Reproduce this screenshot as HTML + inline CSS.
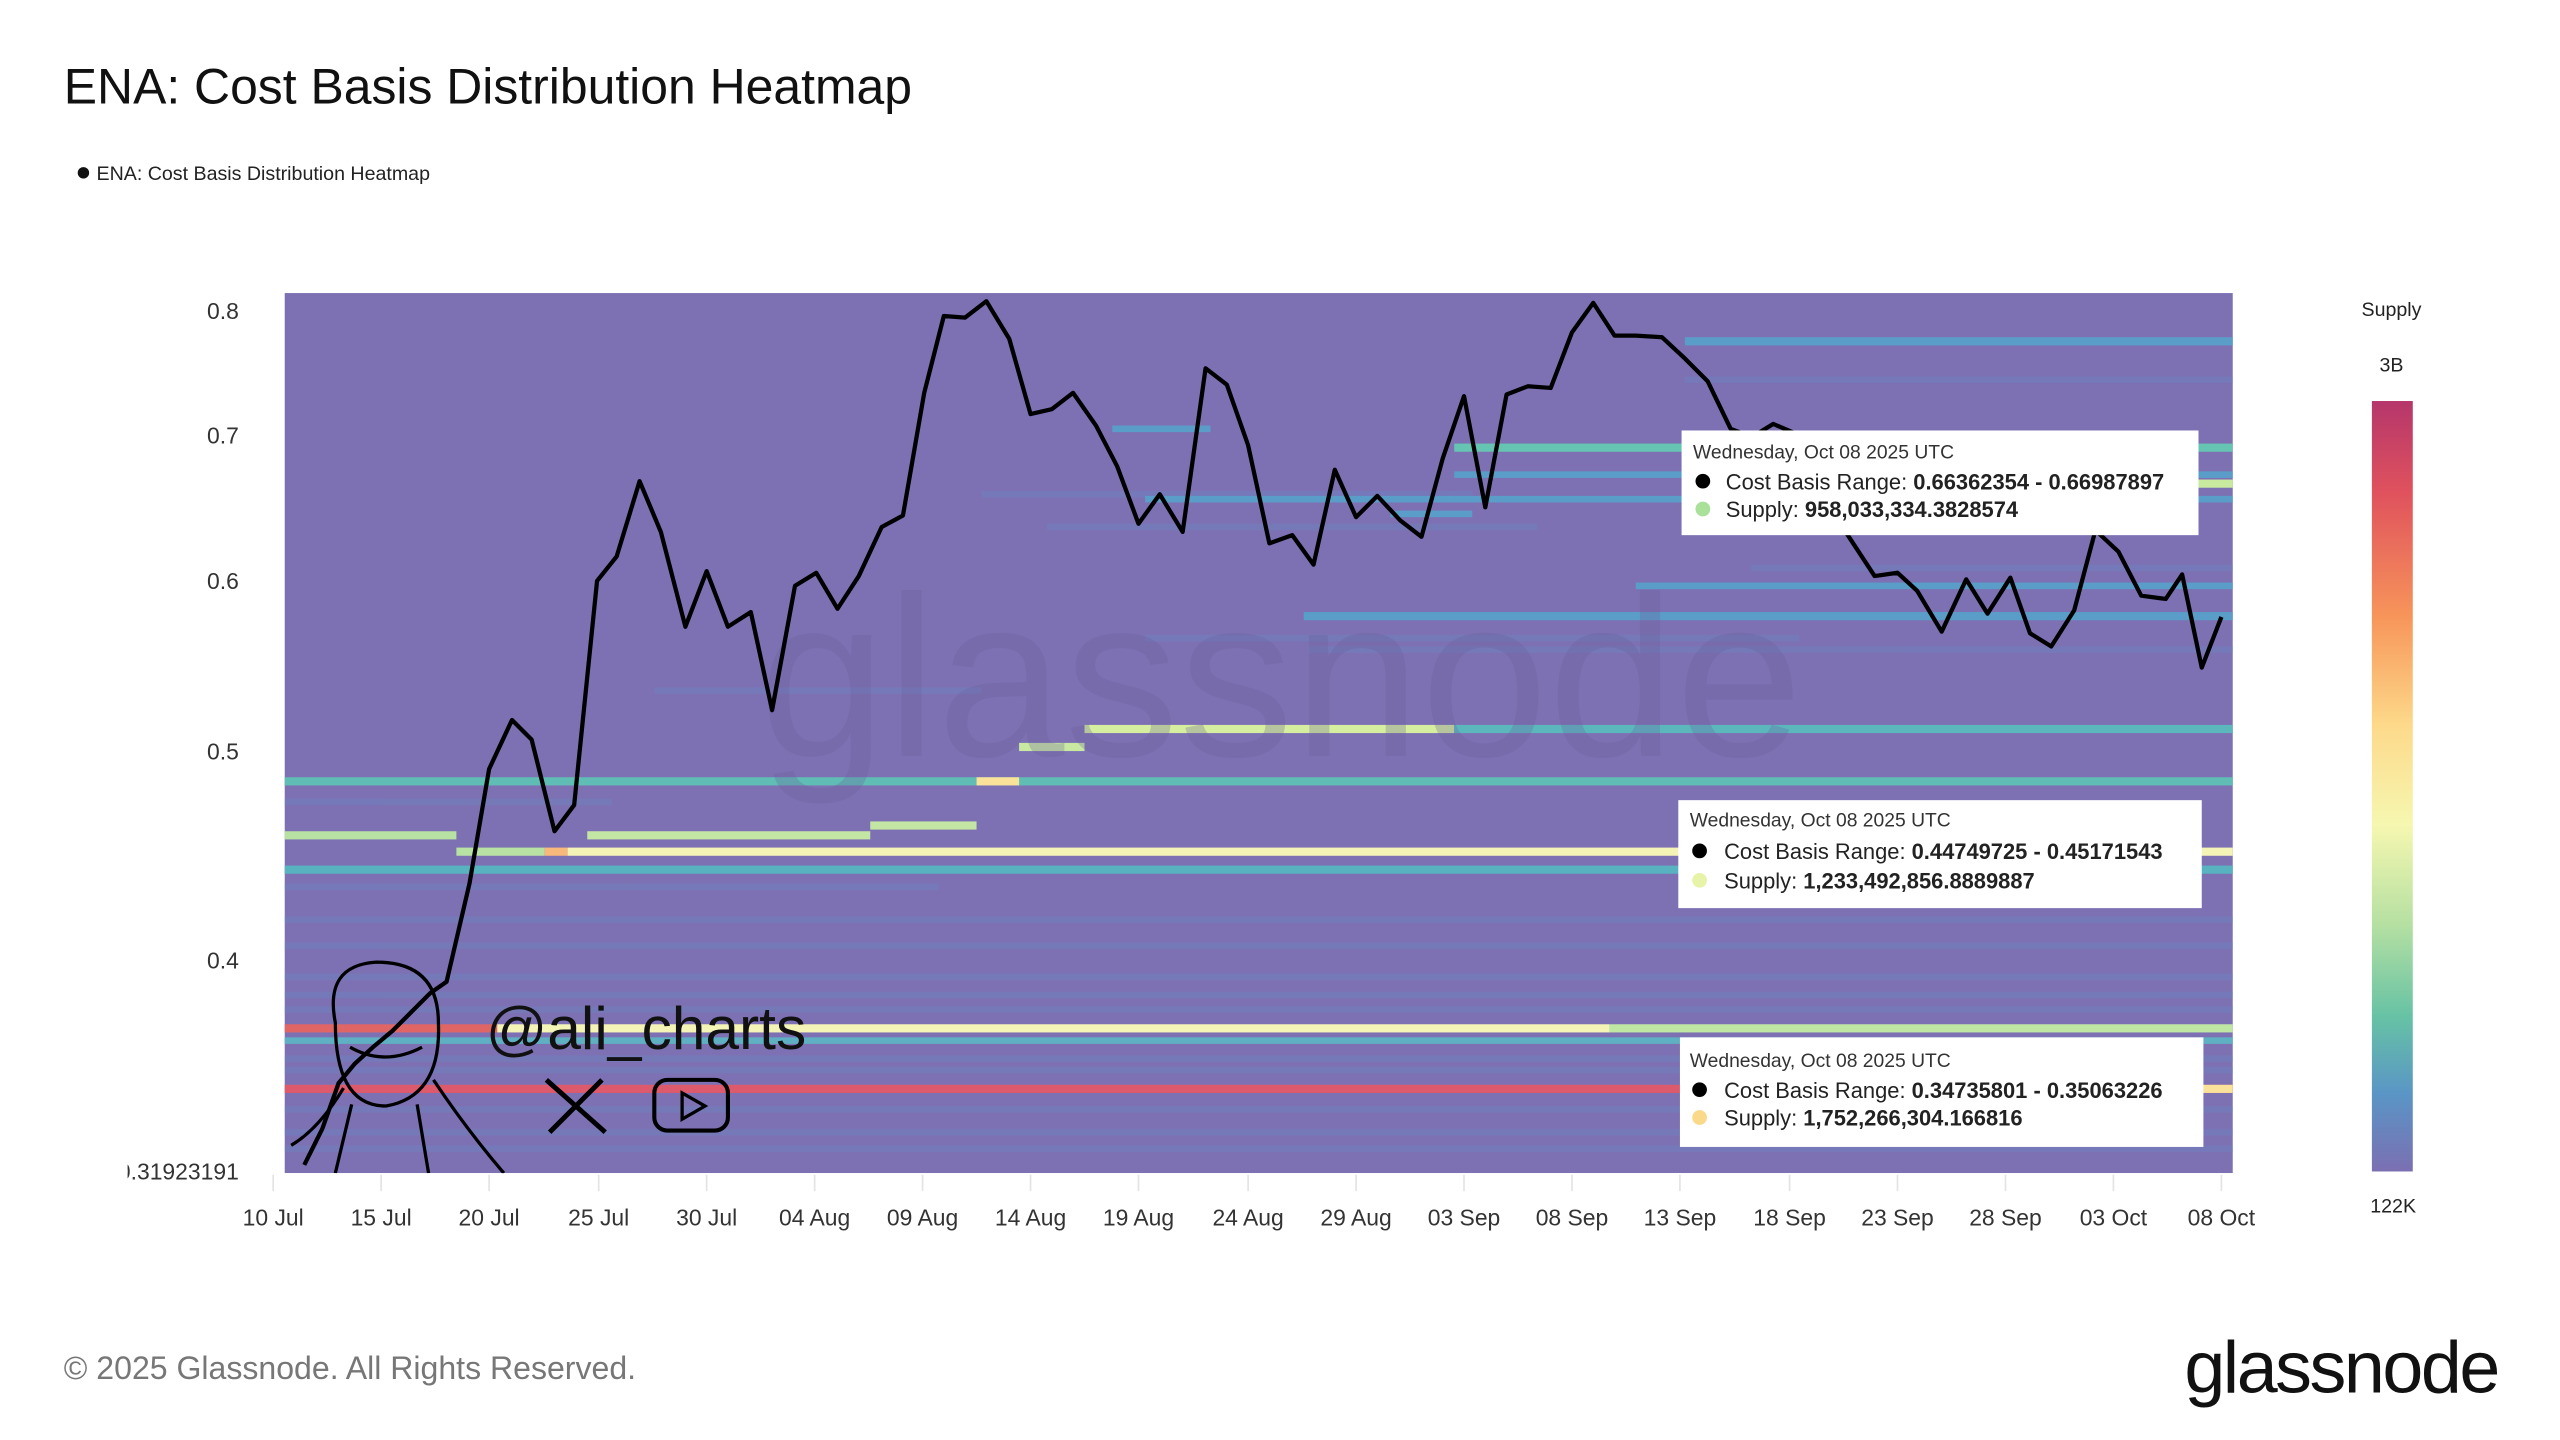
<!DOCTYPE html>
<html><head><meta charset="utf-8"><style>
html,body{margin:0;padding:0;background:#fff;}
svg{display:block}
text{font-family:"Liberation Sans",sans-serif}
</style></head><body>
<svg width="2560" height="1440" viewBox="0 0 1565 880" xmlns="http://www.w3.org/2000/svg">
<defs>
<linearGradient id="cb" x1="0" y1="0" x2="0" y2="1">
<stop offset="0" stop-color="#b5366b"/>
<stop offset="0.12" stop-color="#e0525d"/>
<stop offset="0.28" stop-color="#f7955a"/>
<stop offset="0.42" stop-color="#fdd98a"/>
<stop offset="0.55" stop-color="#f6f7b0"/>
<stop offset="0.68" stop-color="#b5e0a2"/>
<stop offset="0.8" stop-color="#66c2a5"/>
<stop offset="0.9" stop-color="#5a95c6"/>
<stop offset="1" stop-color="#7b6fb2"/>
</linearGradient>
<clipPath id="pc"><rect x="174" y="179" width="1191" height="538"/></clipPath>
</defs>
<rect width="1565" height="880" fill="#fff"/>
<text x="39" y="63" font-size="30.5" fill="#111">ENA: Cost Basis Distribution Heatmap</text>
<circle cx="51" cy="105.5" r="3.5" fill="#111"/>
<text x="59" y="110" font-size="12" fill="#222">ENA: Cost Basis Distribution Heatmap</text>

<g clip-path="url(#pc)">
<rect x="174" y="179" width="1191" height="538" fill="#7d71b3"/>
<g fill="#6f83c0" opacity="0.45">
<rect x="174" y="560" width="1191" height="4"/>
<rect x="174" y="576" width="1191" height="4"/>
<rect x="174" y="595" width="1191" height="4"/>
<rect x="174" y="606" width="1191" height="4"/>
<rect x="174" y="615" width="1191" height="4"/>
<rect x="174" y="645" width="1191" height="4"/>
<rect x="174" y="652" width="1191" height="4"/>
<rect x="174" y="676" width="1191" height="4"/>
<rect x="174" y="690" width="1191" height="4"/>
<rect x="174" y="700" width="1191" height="4"/>
<rect x="1030" y="230" width="335" height="4"/>
<rect x="1070" y="345" width="295" height="4"/>
<rect x="800" y="395" width="565" height="4"/>
<rect x="700" y="388" width="400" height="4"/>
<rect x="640" y="320" width="300" height="4"/>
<rect x="600" y="300" width="300" height="4"/>
<rect x="400" y="420" width="200" height="4"/>
<rect x="174" y="488" width="200" height="4"/>
<rect x="174" y="540" width="400" height="4"/>
</g>
<g fill="#5a9dc8">
<rect x="1030" y="206" width="335" height="5"/>
<rect x="889" y="288" width="476" height="4"/>
<rect x="889" y="303" width="476" height="4"/>
<rect x="700" y="303" width="190" height="4"/>
<rect x="797" y="374" width="568" height="5"/>
<rect x="1000" y="356" width="365" height="4"/>
<rect x="680" y="260" width="60" height="4"/>
<rect x="850" y="312" width="50" height="4"/>
</g>
<rect x="889" y="271" width="476" height="5" fill="#66c4b2"/>
<rect x="1280" y="293" width="85" height="5" fill="#c8ea9e"/>
<rect x="663" y="443" width="226" height="5" fill="#d6ee9f"/>
<rect x="889" y="443" width="476" height="5" fill="#5cb7bd"/>
<rect x="623" y="454" width="40" height="5" fill="#c9e8a2"/>
<rect x="174" y="475" width="1191" height="5" fill="#5fbdb5"/>
<rect x="597" y="475" width="26" height="5" fill="#fbe29a"/>
<rect x="532" y="502" width="65" height="5" fill="#c4e6a4"/>
<rect x="174" y="508" width="105" height="5" fill="#b8e2a4"/>
<rect x="359" y="508" width="173" height="5" fill="#c4e6a4"/>
<rect x="279" y="518" width="54" height="5" fill="#b8e2a4"/>
<rect x="333" y="518" width="14" height="5" fill="#f9b97a"/>
<rect x="347" y="518" width="1018" height="5" fill="#f4f4b6"/>
<rect x="174" y="529" width="1191" height="5" fill="#58b2c0"/>
<rect x="174" y="626" width="130" height="5" fill="#e06666"/>
<rect x="304" y="626" width="680" height="5" fill="#f4f4b6"/>
<rect x="984" y="626" width="381" height="5" fill="#c0e6a4"/>
<rect x="174" y="634" width="1191" height="4" fill="#5fb0c2"/>
<rect x="174" y="663" width="1191" height="5" fill="#dc5a6c"/>
<rect x="1345" y="663" width="20" height="5" fill="#fbe29a"/>
<text x="783" y="462" font-size="140" fill="#6a5f9d" opacity="0.28" text-anchor="middle">glassnode</text>
<polyline fill="none" stroke="#000" stroke-width="2.6" stroke-linejoin="round" points="186,712 197,690 207,662 217,650 228,640 240,630 253,617 263,607 273,600 287,540 299,470 313,440 325,452 339,508 351,492 365,355 377,340 391,294 404,325 419,383 432,349 445,383 459,374 472,434 486,358 499,350 512,372 525,352 539,322 552,315 565,240 577,193 590,194 603,184 617,207 630,253 643,250 656,240 670,260 683,285 696,320 709,302 723,325 737,225 750,235 763,272 776,332 790,327 803,345 816,287 829,316 842,303 856,318 869,328 882,280 895,242 908,310 921,241 934,236 948,237 961,203 974,185 987,205 1000,205 1016,206 1030,219 1044,233 1058,262 1071,267 1084,259 1098,265 1111,290 1125,320 1146,352 1160,350 1172,361 1187,386 1202,354 1215,375 1229,353 1241,387 1254,395 1268,373 1281,324 1295,337 1309,364 1324,366 1334,351 1346,408 1358,377"/>
<g fill="none" stroke="#000" stroke-width="2">
<path d="M205 625 Q198 590 230 588 Q268 588 268 625 Q270 670 236 676 Q205 676 205 625 Z"/>
<path d="M210 665 Q195 690 178 700 M265 660 Q285 690 308 717 M215 675 L205 717 M255 675 L262 717"/>
<path d="M214 640 Q235 652 258 640"/>
</g>
<text x="297" y="641" font-size="37" fill="#111">@ali_charts</text>
<path d="M334 660 L370 692 M368 660 L336 692" stroke="#000" stroke-width="3"/>
<rect x="400" y="660" width="45" height="31" rx="8" fill="none" stroke="#000" stroke-width="2.5"/>
<path d="M417 668 L431 676 L417 684 Z" fill="none" stroke="#000" stroke-width="2"/>
</g>

<g font-size="13.4" fill="#222">
<rect x="1028" y="263" width="316" height="64" fill="#fff"/>
<text x="1035" y="280" font-size="11.8" fill="#333">Wednesday, Oct 08 2025 UTC</text>
<circle cx="1041" cy="294" r="4.5" fill="#000"/>
<text x="1055" y="299">Cost Basis Range: <tspan font-weight="bold">0.66362354 - 0.66987897</tspan></text>
<circle cx="1041" cy="311" r="4.5" fill="#a9e09a"/>
<text x="1055" y="316">Supply: <tspan font-weight="bold">958,033,334.3828574</tspan></text>

<rect x="1026" y="489" width="320" height="66" fill="#fff"/>
<text x="1033" y="505" font-size="11.8" fill="#333">Wednesday, Oct 08 2025 UTC</text>
<circle cx="1039" cy="520" r="4.5" fill="#000"/>
<text x="1054" y="525">Cost Basis Range: <tspan font-weight="bold">0.44749725 - 0.45171543</tspan></text>
<circle cx="1039" cy="538" r="4.5" fill="#e6f3a8"/>
<text x="1054" y="543">Supply: <tspan font-weight="bold">1,233,492,856.8889887</tspan></text>

<rect x="1027" y="634" width="320" height="67" fill="#fff"/>
<text x="1033" y="652" font-size="11.8" fill="#333">Wednesday, Oct 08 2025 UTC</text>
<circle cx="1039" cy="666" r="4.5" fill="#000"/>
<text x="1054" y="671">Cost Basis Range: <tspan font-weight="bold">0.34735801 - 0.35063226</tspan></text>
<circle cx="1039" cy="683" r="4.5" fill="#fbd98a"/>
<text x="1054" y="688">Supply: <tspan font-weight="bold">1,752,266,304.166816</tspan></text>
</g>

<g font-size="14" fill="#333" text-anchor="end">
<text x="146" y="195">0.8</text>
<text x="146" y="271">0.7</text>
<text x="146" y="360">0.6</text>
<text x="146" y="464">0.5</text>
<text x="146" y="592">0.4</text>
<text x="146" y="721">0.31923191</text>
</g>
<rect x="60" y="705" width="18" height="20" fill="#fff"/>
<g font-size="14" fill="#333" text-anchor="middle">
<text x="167" y="749">10 Jul</text><text x="233" y="749">15 Jul</text><text x="299" y="749">20 Jul</text><text x="366" y="749">25 Jul</text><text x="432" y="749">30 Jul</text><text x="498" y="749">04 Aug</text><text x="564" y="749">09 Aug</text><text x="630" y="749">14 Aug</text><text x="696" y="749">19 Aug</text><text x="763" y="749">24 Aug</text><text x="829" y="749">29 Aug</text><text x="895" y="749">03 Sep</text><text x="961" y="749">08 Sep</text><text x="1027" y="749">13 Sep</text><text x="1094" y="749">18 Sep</text><text x="1160" y="749">23 Sep</text><text x="1226" y="749">28 Sep</text><text x="1292" y="749">03 Oct</text><text x="1358" y="749">08 Oct</text>
</g>
<g stroke="#e3e3e3" stroke-width="1">
<path d="M167 718v10M233 718v10M299 718v10M366 718v10M432 718v10M498 718v10M564 718v10M630 718v10M696 718v10M763 718v10M829 718v10M895 718v10M961 718v10M1027 718v10M1094 718v10M1160 718v10M1226 718v10M1292 718v10M1358 718v10"/>
</g>

<text x="1462" y="193" font-size="12" fill="#222" text-anchor="middle">Supply</text>
<text x="1462" y="227" font-size="12" fill="#222" text-anchor="middle">3B</text>
<rect x="1450" y="245" width="25" height="471" fill="url(#cb)"/>
<text x="1463" y="741" font-size="12" fill="#222" text-anchor="middle">122K</text>

<text x="39" y="843" font-size="19.6" fill="#777">© 2025 Glassnode. All Rights Reserved.</text>
<text x="1527" y="851" font-size="45" fill="#111" text-anchor="end" letter-spacing="-1.5">glassnode</text>
</svg>
</body></html>
